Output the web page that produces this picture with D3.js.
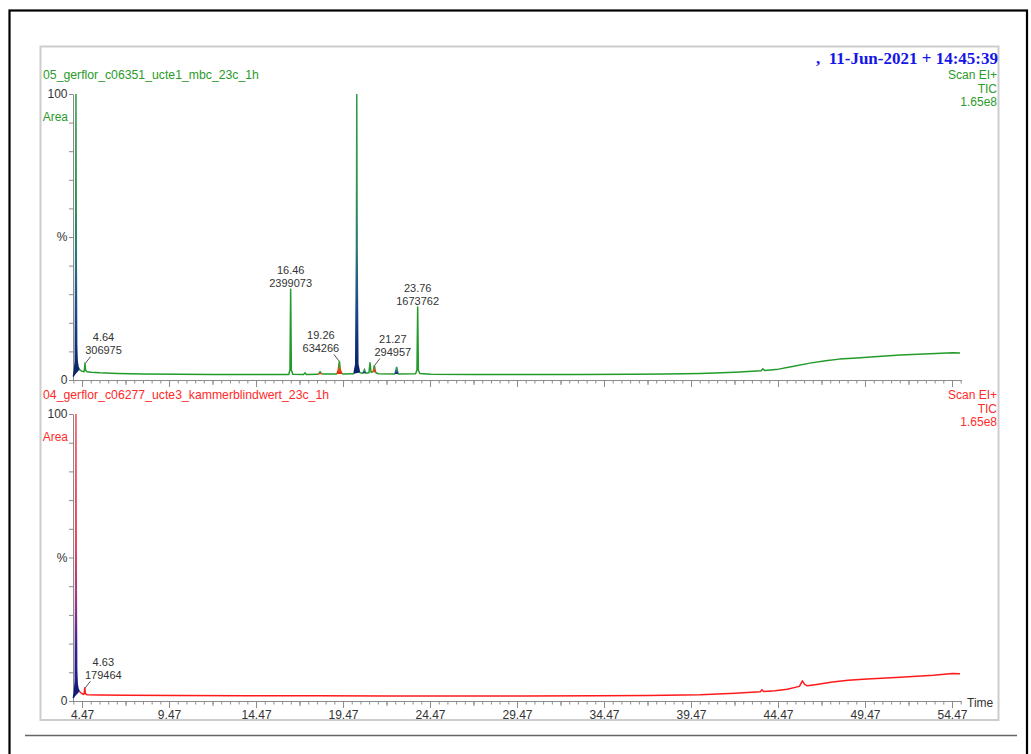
<!DOCTYPE html>
<html>
<head>
<meta charset="utf-8">
<script src="https://cdn.jsdelivr.net/npm/d3@7"></script>
<style>
  html, body { margin: 0; padding: 0; background: #fff; }
  svg { display: block; font-family: "Liberation Sans", Arial, sans-serif; }
</style>
</head>
<body>
<svg id="chart" width="1031" height="754"></svg>
<script>
// ---- Chromatogram data (retention time in minutes, relative intensity in %) ----

const sampleTitles = [
  "05_gerflor_c06351_ucte1_mbc_23c_1h",
  "04_gerflor_c06277_ucte3_kammerblindwert_23c_1h"
];
const scanInfo = ["Scan EI+", "TIC", "1.65e8"];
const acquisitionStamp = ",  11-Jun-2021 + 14:45:39";

// Sample TIC trace
const sampleTrace = [
  [3.97, 1.2], [4.03, 3.2], [4.08, 6.5], [4.10, 40], [4.12, 100], [4.14, 40],
  [4.16, 12], [4.19, 6.5], [4.24, 4.6], [4.32, 3.6], [4.45, 3.1], [4.58, 2.9],
  [4.61, 3.6], [4.64, 5.9], [4.67, 3.4], [4.75, 2.9], [5.0, 2.7], [5.5, 2.5],
  [6.5, 2.3], [8.0, 2.1], [10.0, 2.0], [12.0, 1.9], [14.0, 1.9], [16.35, 1.9],
  [16.42, 3.5], [16.46, 31.7], [16.50, 3.5], [16.58, 2.0], [17.20, 1.9], [17.29, 2.5],
  [17.36, 1.9], [18.05, 2.0], [18.15, 2.9], [18.25, 2.1], [19.12, 2.1], [19.20, 3.8],
  [19.26, 6.7], [19.32, 3.4], [19.42, 2.1], [20.10, 2.2], [20.20, 5.5], [20.24, 45],
  [20.26, 100], [20.28, 45], [20.32, 5.5], [20.42, 2.6], [20.62, 2.4], [20.70, 3.6],
  [20.77, 2.4], [20.96, 2.5], [21.02, 6.0], [21.08, 2.7], [21.20, 2.8], [21.27, 5.2],
  [21.34, 2.6], [21.50, 2.2], [22.46, 2.1], [22.55, 4.6], [22.63, 2.1], [23.64, 2.2],
  [23.72, 3.5], [23.76, 25.5], [23.80, 3.5], [23.88, 2.3], [24.5, 2.0], [27.0, 1.9],
  [30.0, 1.9], [33.0, 1.9], [36.0, 2.0], [38.0, 2.1], [40.0, 2.3], [42.0, 2.7],
  [43.5, 3.2], [43.6, 3.9], [43.7, 3.3], [44.5, 3.8], [45.3, 4.7], [46.3, 5.9],
  [47.2, 6.7], [48.0, 7.3], [49.0, 7.7], [50.0, 8.1], [51.5, 8.7], [53.2, 9.2],
  [54.5, 9.5], [54.93, 9.4]
];

// Chamber blank TIC trace
const blankTrace = [
  [3.97, 1.0], [4.03, 3.0], [4.08, 7.0], [4.10, 40], [4.12, 100], [4.14, 38],
  [4.16, 11], [4.19, 6.0], [4.24, 4.2], [4.32, 3.3], [4.45, 2.6], [4.57, 2.3],
  [4.60, 3.0], [4.63, 4.6], [4.66, 2.6], [4.75, 2.2], [5.5, 2.1], [7.0, 2.0],
  [10.0, 1.9], [14.0, 1.8], [18.0, 1.8], [22.0, 1.7], [26.0, 1.7], [30.0, 1.7],
  [34.0, 1.8], [37.0, 1.9], [40.0, 2.2], [42.0, 2.7], [43.45, 3.2], [43.55, 3.9],
  [43.65, 3.3], [44.3, 3.6], [45.0, 4.1], [45.7, 5.1], [45.87, 7.0], [46.0, 5.8],
  [46.15, 5.3], [46.6, 5.7], [47.6, 6.6], [48.5, 7.2], [49.6, 7.7], [51.5, 8.3],
  [53.4, 9.0], [54.5, 9.6], [54.93, 9.5]
];

// Integrated peak windows: [start, end, class]
const samplePeaks = [
  [3.97, 4.32, "major"], [18.05, 18.25, "minor"], [19.12, 19.42, "minor"],
  [20.10, 20.42, "major"], [20.62, 20.77, "major"], [21.20, 21.34, "minor"],
  [22.46, 22.63, "major"]
];
const blankPeaks = [
  [3.97, 4.32, "major"]
];

// Annotated peaks: retention time and integrated area
const sampleLabels = [
  { rt: 4.64, area: 306975 }, { rt: 16.46, area: 2399073 }, { rt: 19.26, area: 634266 },
  { rt: 21.27, area: 294957 }, { rt: 23.76, area: 1673762 }
];
const blankLabels = [
  { rt: 4.63, area: 179464 }
];

const timeTicks = [4.47, 9.47, 14.47, 19.47, 24.47, 29.47, 34.47, 39.47, 44.47, 49.47, 54.47];
const timeTickLabels = ["4.47", "9.47", "14.47", "19.47", "24.47", "29.47", "34.47", "39.47", "44.47", "49.47", "54.47"];
const percentTicks = [0, 10, 20, 30, 40, 50, 60, 70, 80, 90, 100];

// ---- Drawing ----
const svg = d3.select("#chart");
const axisColor = "#8c8c8c";
const textColor = "#333";

const x = d3.scaleLinear().domain([3.95, 54.97]).range([73, 960.7]);

const panels = [
  { title: sampleTitles[0], trace: sampleTrace, peaks: samplePeaks, labels: sampleLabels,
    color: "#239b2a", textFill: "#2a9a2a", range: [380, 94], showTime: false, gradMajor: "gMajorGreen" },
  { title: sampleTitles[1], trace: blankTrace, peaks: blankPeaks, labels: blankLabels,
    color: "#ff1a1a", textFill: "#ff2a2a", range: [701, 414], showTime: true, gradMajor: "gMajorRed" }
];

// Frames
svg.append("rect").attr("x", 9.5).attr("y", 10.5).attr("width", 1017.5).attr("height", 760)
  .attr("fill", "none").attr("stroke", "#000").attr("stroke-width", 2.2);
svg.append("line").attr("x1", 25).attr("x2", 1017).attr("y1", 735.5).attr("y2", 735.5)
  .attr("stroke", "#666").attr("stroke-width", 1.5);
svg.append("rect").attr("x", 40.5).attr("y", 46.5).attr("width", 958).attr("height", 673.5)
  .attr("fill", "none").attr("stroke", "#cdcdcd").attr("stroke-width", 2);

// Gradients for integrated peak fills
const defs = svg.append("defs");
function addGradient(id, stops) {
  const g = defs.append("linearGradient").attr("id", id)
    .attr("x1", 0).attr("y1", 0).attr("x2", 0).attr("y2", 1);
  stops.forEach(([o, c]) => g.append("stop").attr("offset", o).attr("stop-color", c));
}
addGradient("gMajorGreen", [[0, "#2f9a45"], [0.35, "#2e9450"], [0.55, "#2a7a78"], [0.75, "#1c4f8a"], [0.9, "#0e2f78"], [1, "#0a2466"]]);
addGradient("gMajorRed", [[0, "#f44a5a"], [0.45, "#e8455f"], [0.65, "#a03880"], [0.82, "#3a2090"], [1, "#0c1a7a"]]);
addGradient("gMinorGreen", [[0, "#2f9a3a"], [0.4, "#4a9030"], [0.65, "#d8501a"], [1, "#e0300e"]]);

// Acquisition stamp
svg.append("text").attr("x", 998).attr("y", 64).attr("text-anchor", "end")
  .style("white-space", "pre")
  .attr("font-family", "'Liberation Serif', 'Times New Roman', serif")
  .attr("font-weight", "bold").attr("font-size", 17).attr("fill", "#1616e8")
  .text(acquisitionStamp);

panels.forEach(p => {
  const y = d3.scaleLinear().domain([0, 100]).range(p.range);
  const g = svg.append("g");
  const y0 = p.range[0], y100 = p.range[1];
  const inWindow = d => p.peaks.some(([t0, t1]) => d[0] > t0 + 1e-9 && d[0] < t1 - 1e-9);

  // Headers
  g.append("text").attr("x", 43).attr("y", y100 - 15).attr("font-size", 12.25)
    .attr("fill", p.textFill).text(p.title);
  scanInfo.forEach((s, i) => {
    g.append("text").attr("x", 997).attr("y", y100 - 15 + i * 13.5).attr("text-anchor", "end")
      .attr("font-size", 12).attr("fill", p.textFill).text(s);
  });

  // Y axis
  const yAxis = g.append("g").attr("transform", "translate(73,0)")
    .call(d3.axisLeft(y).tickValues(percentTicks).tickSize(4).tickSizeOuter(0).tickFormat(""));
  yAxis.select(".domain").attr("stroke", axisColor);
  yAxis.selectAll(".tick line").attr("stroke", axisColor);
  [["100", 100], ["%", 50], ["0", 0]].forEach(([t, v]) => {
    g.append("text").attr("x", 67.5).attr("y", y(v) + 4.3).attr("text-anchor", "end")
      .attr("font-size", 12).attr("fill", textColor).text(t);
  });
  g.append("text").attr("x", 68).attr("y", y(100) + 27).attr("text-anchor", "end")
    .attr("font-size", 12).attr("fill", p.textFill).text("Area");

  // X axis: minor (0.5 min), medium (2.5 min) and major (5 min) ticks
  const minor = d3.range(3.97, 54.98, 0.5);
  const medium = d3.range(6.97, 54.98, 5);
  const xg = g.append("g").attr("transform", `translate(0,${y0})`);
  const mk = (vals, size) => {
    const a = xg.append("g")
      .call(d3.axisBottom(x).tickValues(vals).tickSize(size).tickSizeOuter(0).tickFormat(""));
    a.select(".domain").attr("stroke", axisColor);
    a.selectAll(".tick line").attr("stroke", axisColor);
  };
  mk(minor, 3.5);
  mk(medium, 5);
  const major = xg.append("g")
    .call(d3.axisBottom(x).tickValues(timeTicks).tickSize(7).tickSizeOuter(0)
      .tickFormat((d, i) => p.showTime ? timeTickLabels[i] : ""));
  major.select(".domain").attr("stroke", axisColor);
  major.selectAll(".tick line").attr("stroke", axisColor);
  major.selectAll(".tick text").attr("font-family", "'Liberation Sans', Arial, sans-serif")
    .attr("font-size", 12).attr("fill", textColor).attr("dy", "0.35em").attr("y", 14);
  if (p.showTime) {
    g.append("text").attr("x", 967).attr("y", y0 + 5.5).attr("font-size", 12)
      .attr("fill", textColor).text("Time");
  }

  const line = d3.line().x(d => x(d[0])).y(d => y(d[1]));

  // Integrated peaks: fill between trace and the straight baseline joining the window ends
  p.peaks.forEach(([t0, t1, cls]) => {
    const pts = p.trace.filter(d => d[0] >= t0 - 1e-9 && d[0] <= t1 + 1e-9);
    const a = pts[0], b = pts[pts.length - 1];
    const base = t => a[1] + (b[1] - a[1]) * (t - a[0]) / (b[0] - a[0]);
    const grad = cls === "major" ? p.gradMajor : "gMinorGreen";
    const area = d3.area().x(d => x(d[0])).y0(d => y(base(d[0]))).y1(d => y(d[1]));
    g.append("path").datum(pts).attr("d", area).attr("fill", `url(#${grad})`);
    g.append("path").datum(pts).attr("d", line).attr("fill", "none")
      .attr("stroke", `url(#${grad})`).attr("stroke-width", 1.5);
  });

  // Trace outside the integrated windows in the sample colour
  const traceLine = d3.line().x(d => x(d[0])).y(d => y(d[1])).defined(d => !inWindow(d));
  g.append("path").datum(p.trace).attr("d", traceLine).attr("fill", "none")
    .attr("stroke", p.color).attr("stroke-width", 1.5).attr("stroke-linejoin", "round");

  // Peak annotations; labels crowded by a taller neighbour are moved aside with a leader
  const apexes = p.trace.filter((d, i, arr) => i > 0 && i < arr.length - 1 &&
    d[1] > arr[i - 1][1] && d[1] > arr[i + 1][1]);
  p.labels.forEach(lb => {
    const pk = d3.least(p.trace, d => Math.abs(d[0] - lb.rt));
    const rivals = apexes.filter(a => a !== pk && Math.abs(a[0] - pk[0]) < 1.2 && a[1] > pk[1]);
    const near = d3.least(rivals, a => Math.abs(a[0] - pk[0]));
    const dir = near ? Math.sign(pk[0] - near[0]) : 0;
    const px = x(pk[0]), py = y(pk[1]);
    let tx = px, by = py - 2;
    if (dir !== 0) {
      tx = px + dir * 18.5;
      by = py - 9;
      g.append("line").attr("x1", px + dir * 5.5).attr("y1", py - 6.5).attr("x2", px + dir * 0.5).attr("y2", py)
        .attr("stroke", "#555").attr("stroke-width", 1);
    }
    g.append("text").attr("x", tx).attr("y", by - 13).attr("text-anchor", "middle")
      .attr("font-size", 11).attr("fill", textColor).text(lb.rt.toFixed(2));
    g.append("text").attr("x", tx).attr("y", by).attr("text-anchor", "middle")
      .attr("font-size", 11).attr("fill", textColor).text(String(lb.area));
  });
});
</script>
</body>
</html>
